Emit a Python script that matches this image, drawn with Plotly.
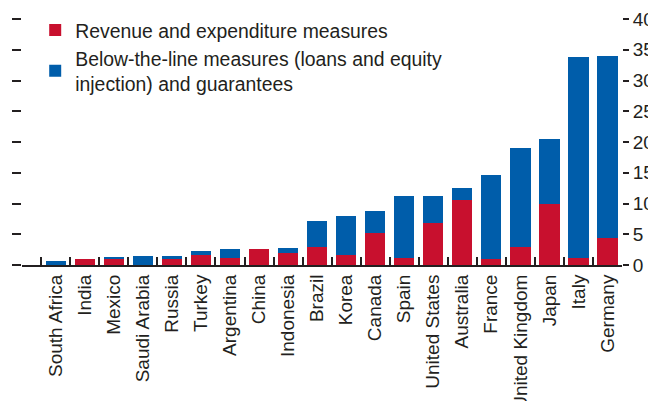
import plotly.graph_objects as go

countries = ["South Africa", "India", "Mexico", "Saudi Arabia", "Russia", "Turkey",
             "Argentina", "China", "Indonesia", "Brazil", "Korea", "Canada", "Spain",
             "United States", "Australia", "France", "United Kingdom", "Japan", "Italy",
             "Germany"]
revenue = [0.0, 1.0, 0.9, 0.0, 0.9, 1.7, 1.1, 2.55, 1.95, 3.0, 1.7, 5.2, 1.2,
           6.8, 10.55, 0.9, 3.0, 10.0, 1.1, 4.4]
below_line = [0.7, 0.0, 0.35, 1.5, 0.6, 0.6, 1.45, 0.0, 0.85, 4.15, 6.2, 3.6, 10.0,
              4.4, 1.9, 13.7, 16.0, 10.5, 32.7, 29.6]
y_ticks = [0, 5, 10, 15, 20, 25, 30, 35, 40]

RED = "#C8102E"
BLUE = "#005DAA"
INK = "#231F20"
FONT = "Liberation Sans Narrow, Arial Narrow, Liberation Sans, Arial, sans-serif"

fig = go.Figure()
fig.add_trace(go.Bar(x=countries, y=revenue, name="Revenue and expenditure measures",
                     marker=dict(color=RED, line=dict(width=0))))
fig.add_trace(go.Bar(x=countries, y=below_line,
                     name="Below-the-line measures (loans and equity<br>injection) and guarantees",
                     marker=dict(color=BLUE, line=dict(width=0))))
# invisible trace so the right-hand axis gets drawn
fig.add_trace(go.Scatter(x=[countries[0]], y=[0], yaxis="y2", mode="markers",
                         marker=dict(opacity=0), showlegend=False, hoverinfo="skip"))

# page body has an 8px margin, so the figure is sized to fit the 656x401 window
fig.update_layout(
    width=648, height=393,
    barmode="stack", bargap=0.3,
    plot_bgcolor="white", paper_bgcolor="white",
    font=dict(family=FONT, size=19, color=INK),
    margin=dict(l=14, r=34, t=11, b=136, pad=0, autoexpand=False),
    showlegend=True,
    legend=dict(x=0.022, y=1.033, xanchor="left", yanchor="top", traceorder="normal",
                bgcolor="rgba(0,0,0,0)", font=dict(size=19.4), tracegroupgap=0),
    xaxis=dict(tickangle=-90, showline=True, linecolor=INK, linewidth=2,
               ticks="inside", tickson="boundaries", ticklen=8, tickwidth=2,
               tickcolor=INK, showgrid=False, zeroline=False, automargin=False),
    yaxis=dict(range=[0, 40], tickvals=y_ticks, showticklabels=False, ticks="outside",
               ticklen=9, tickwidth=2, tickcolor=INK, showgrid=False,
               zeroline=False, showline=False, automargin=False),
    yaxis2=dict(range=[0, 40], tickvals=y_ticks, overlaying="y", side="right",
                ticks="outside", ticklen=6, tickwidth=2, tickcolor=INK,
                showgrid=False, zeroline=False, showline=False, automargin=False,
                tickfont=dict(size=19)),
)

fig.write_html("out.html")
